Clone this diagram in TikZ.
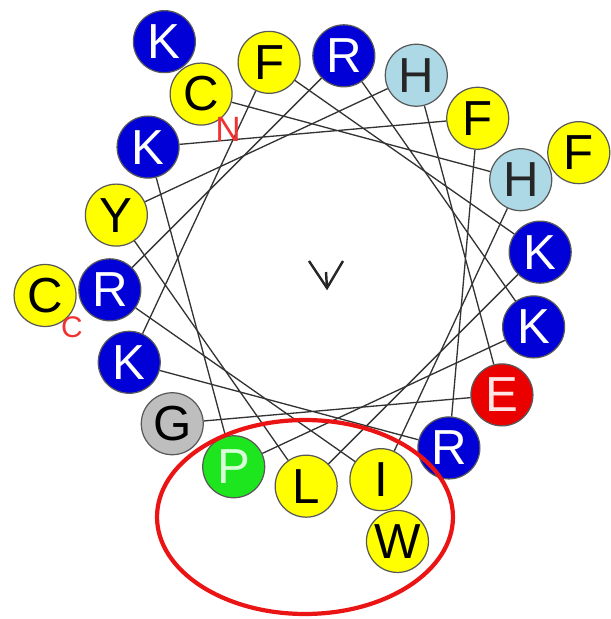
\documentclass[tikz,border=0pt]{standalone}
\usepackage{fontspec}
\setmainfont{Liberation Sans}
\usepackage{tikz}

\definecolor{resblue}{RGB}{0,0,215}
\definecolor{resyellow}{RGB}{255,255,0}
\definecolor{reslight}{RGB}{173,216,230}
\definecolor{resred}{RGB}{235,0,0}
\definecolor{resgreen}{RGB}{30,230,30}
\definecolor{resgray}{RGB}{190,190,190}
\definecolor{ringred}{RGB}{235,20,20}

\begin{document}
\begin{tikzpicture}[x=0.02cm, y=0.02cm,
  res/.style={circle, draw=black!65, line width=0.7pt, minimum size=1.24cm, inner sep=0pt, font=\fontsize{28}{28}\selectfont},
  basic/.style={res, fill=resblue, text=white},
  hydro/.style={res, fill=resyellow, text=black},
  hist/.style={res, fill=reslight, text=black!85},
  acid/.style={res, fill=resred, text=white!90!red},
  pro/.style={res, fill=resgreen, text=white!85!green},
  gly/.style={res, fill=resgray, text=black},
  wire/.style={black!80, line width=0.75pt},
  term/.style={text=resred!80!white, inner sep=0pt}]
\useasboundingbox (-325,-348) rectangle (286,271);

% outer turn
\node[basic] (r19) at (125:280)  {K};
\node[hydro] (r20) at (25:280)   {F};
\node[hydro] (r21) at (-75:280)  {W};
\node[hydro] (r22) at (-175:281) {C};

% inner turn
\node[hydro] (r1)  at (125:216)  {C};
\node[hist]  (r2)  at (25:216)   {H};
\node[hydro] (r3)  at (-75:216)  {I};
\node[basic] (r4)  at (-175:216) {R};
\node[basic] (r5)  at (85:216)   {R};
\node[basic] (r6)  at (-15:216)  {K};
\node[pro]   (r7)  at (-115:216) {P};
\node[basic] (r8)  at (145:216)  {K};
\node[hydro] (r9)  at (45:216)   {F};
\node[basic] (r10) at (-55:216)  {R};
\node[basic] (r11) at (-155:216) {K};
\node[hydro] (r12) at (105:216)  {F};
\node[basic] (r13) at (5:216)    {K};
\node[hydro] (r14) at (-95:216)  {L};
\node[hydro] (r15) at (165:216)  {Y};
\node[hist]  (r16) at (65:216)   {H};
\node[acid]  (r17) at (-35:216)  {E};
\node[gly]   (r18) at (-135:216) {G};

\draw[wire] (r1) -- (r2) -- (r3) -- (r4) -- (r5) -- (r6) -- (r7) -- (r8) -- (r9);
\draw[wire] (r9) -- (r10) -- (r11) -- (r12) -- (r13) -- (r14) -- (r15) -- (r16) -- (r17) -- (r18);

\node[term, font=\fontsize{20}{20}\selectfont] (nterm) at (-97,142) {N};
\node[term, font=\fontsize{17}{17}\selectfont] (cterm) at (-253,-56) {C};

\draw[black!85, line width=1.4pt] (-16,10) -- (2,-17) -- (18,10);
\draw[black!85, line width=1.4pt] (1,-1) -- (2,-17);

\draw[ringred, line width=2.4pt] (-20,-246) ellipse [x radius=2.96cm, y radius=1.94cm];

\end{tikzpicture}
\end{document}
